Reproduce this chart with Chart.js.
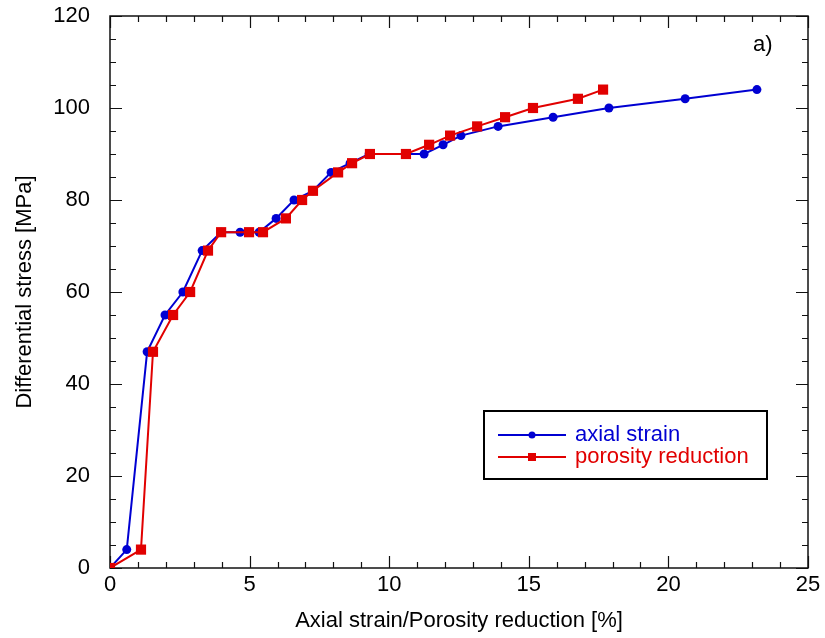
<!DOCTYPE html>
<html>
<head>
<meta charset="utf-8">
<script src="https://cdn.jsdelivr.net/npm/chart.js@4.4.1/dist/chart.umd.min.js"></script>
<style>
  body { margin: 0; background: #fff; }
</style>
</head>
<body>
<canvas id="stressChart" width="825" height="638"></canvas>
<script>
// data
const axialStrain = [0, 0.6, 1.33, 1.97, 2.61, 3.3, 3.98, 4.66, 5.34, 5.95, 6.59, 7.27, 7.92, 8.6, 9.28, 11.25, 11.93, 12.57, 13.9, 15.87, 17.87, 20.6, 23.17];
const axialStress = [0, 4, 47, 55, 60, 69, 73, 73, 73, 76, 80, 82, 86, 88, 90, 90, 92, 94, 96, 98, 100, 102, 104];
const porosityRed = [0, 1.11, 1.54, 2.26, 2.87, 3.51, 3.98, 4.98, 5.48, 6.3, 6.88, 7.27, 8.17, 8.67, 9.31, 10.6, 11.43, 12.18, 13.15, 14.15, 15.15, 16.76, 17.66];
const porosityStress = [0, 4, 47, 55, 60, 69, 73, 73, 73, 76, 80, 82, 86, 88, 90, 90, 92, 94, 96, 98, 100, 102, 104];

const seriesNames = ["axial strain", "porosity reduction"];
const xTicks = [0, 5, 10, 15, 20, 25];
const yTicks = [0, 20, 40, 60, 80, 100, 120];
const xMinorStep = 1;
const yMinorStep = 5;

const FONT = "'Liberation Sans', Arial, Helvetica, sans-serif";
const BLUE = "rgb(0,0,210)";
const RED = "rgb(225,0,0)";

function toPoints(xs, ys) {
    return xs.map((x, i) => ({ x: x, y: ys[i] }));
}

// ticks pointing inward on all four sides + frame
const framePlugin = {
    id: "frame",
    beforeDatasetsDraw(chart) {
        const ctx = chart.ctx;
        const a = chart.chartArea;
        const xs = chart.scales.x, ys = chart.scales.y;
        ctx.save();
        ctx.strokeStyle = "#111";
        ctx.lineWidth = 1.2;
        ctx.beginPath();
        const xMin = xTicks[0], xMax = xTicks[xTicks.length - 1];
        for (let v = xMin; v <= xMax + 1e-9; v += xMinorStep) {
            const px = Math.round(xs.getPixelForValue(v)) + 0.5;
            const len = xTicks.includes(v) ? 12 : 6;
            ctx.moveTo(px, a.bottom); ctx.lineTo(px, a.bottom - len);
            ctx.moveTo(px, a.top); ctx.lineTo(px, a.top + len);
        }
        const yMin = yTicks[0], yMax = yTicks[yTicks.length - 1];
        for (let v = yMin; v <= yMax + 1e-9; v += yMinorStep) {
            const py = Math.round(ys.getPixelForValue(v)) + 0.5;
            const len = yTicks.includes(v) ? 12 : 6;
            ctx.moveTo(a.left, py); ctx.lineTo(a.left + len, py);
            ctx.moveTo(a.right, py); ctx.lineTo(a.right - len, py);
        }
        ctx.stroke();
        ctx.lineWidth = 1.5;
        ctx.strokeRect(a.left, a.top, a.right - a.left, a.bottom - a.top);
        ctx.restore();
    }
};

// legend box inside the plot and the "a)" mark
const boxLegend = {
    id: "boxLegend",
    afterDraw(chart) {
        const ctx = chart.ctx;
        const box = { x: 484, y: 411, w: 283, h: 68 };
        ctx.save();
        ctx.fillStyle = "#fff";
        ctx.fillRect(box.x, box.y, box.w, box.h);
        ctx.strokeStyle = "#000";
        ctx.lineWidth = 2;
        ctx.strokeRect(box.x, box.y, box.w, box.h);

        ctx.font = "22px " + FONT;
        ctx.textBaseline = "middle";
        ctx.textAlign = "left";
        const rows = [box.y + 24, box.y + 46];
        chart.data.datasets.forEach((ds, i) => {
            const y = rows[i];
            ctx.strokeStyle = ds.borderColor;
            ctx.lineWidth = 2;
            ctx.beginPath();
            ctx.moveTo(box.x + 14, y);
            ctx.lineTo(box.x + 82, y);
            ctx.stroke();
            ctx.fillStyle = ds.backgroundColor;
            if (ds.pointStyle === "rect") {
                ctx.fillRect(box.x + 48 - 4, y - 4, 8, 8);
            } else {
                ctx.beginPath();
                ctx.arc(box.x + 48, y, 3.5, 0, Math.PI * 2);
                ctx.fill();
            }
            ctx.fillStyle = ds.borderColor;
            ctx.fillText(ds.label, box.x + 91, y);
        });

        ctx.fillStyle = "#000";
        ctx.fillText("a)", 753, 45);
        ctx.restore();
    }
};

const ctx = document.getElementById("stressChart");

new Chart(ctx, {
    type: "line",
    data: {
        datasets: [
            {
                label: seriesNames[0],
                data: toPoints(axialStrain, axialStress),
                borderColor: BLUE,
                backgroundColor: BLUE,
                borderWidth: 2,
                pointStyle: "circle",
                pointRadius: 4.5,
                pointBorderWidth: 0,
                tension: 0,
                order: 1
            },
            {
                label: seriesNames[1],
                data: toPoints(porosityRed, porosityStress),
                borderColor: RED,
                backgroundColor: RED,
                borderWidth: 2,
                pointStyle: "rect",
                pointRadius: 7.2,
                pointBorderWidth: 0,
                tension: 0,
                order: 0
            }
        ]
    },
    options: {
        responsive: false,
        animation: false,
        devicePixelRatio: 1,
        layout: { padding: { top: 16, right: 17, left: 0, bottom: 0 } },
        plugins: {
            legend: { display: false },
            tooltip: { enabled: false }
        },
        scales: {
            x: {
                type: "linear",
                min: xTicks[0],
                max: xTicks[xTicks.length - 1],
                afterBuildTicks(scale) {
                    scale.ticks = xTicks.map(v => ({ value: v }));
                },
                afterFit(scale) {
                    scale.height = 70;
                    scale.paddingLeft = 0;
                    scale.paddingRight = 0;
                },
                grid: { display: false, drawTicks: false },
                border: { display: false },
                ticks: {
                    color: "#000",
                    padding: 4,
                    maxRotation: 0,
                    font: { family: FONT, size: 22 }
                },
                title: {
                    display: true,
                    text: "Axial strain/Porosity reduction [%]",
                    color: "#000",
                    font: { family: FONT, size: 22 },
                    padding: { top: 0, bottom: 4 }
                }
            },
            y: {
                type: "linear",
                min: yTicks[0],
                max: yTicks[yTicks.length - 1],
                afterBuildTicks(scale) {
                    scale.ticks = yTicks.map(v => ({ value: v }));
                },
                afterFit(scale) {
                    scale.width = 110;
                    scale.paddingTop = 0;
                    scale.paddingBottom = 0;
                },
                grid: { display: false, drawTicks: false },
                border: { display: false },
                ticks: {
                    color: "#000",
                    padding: 20,
                    font: { family: FONT, size: 22 }
                },
                title: {
                    display: true,
                    text: "Differential stress [MPa]",
                    color: "#000",
                    font: { family: FONT, size: 22 },
                    padding: { top: 12, bottom: 0 }
                }
            }
        }
    },
    plugins: [framePlugin, boxLegend]
});
</script>
</body>
</html>
